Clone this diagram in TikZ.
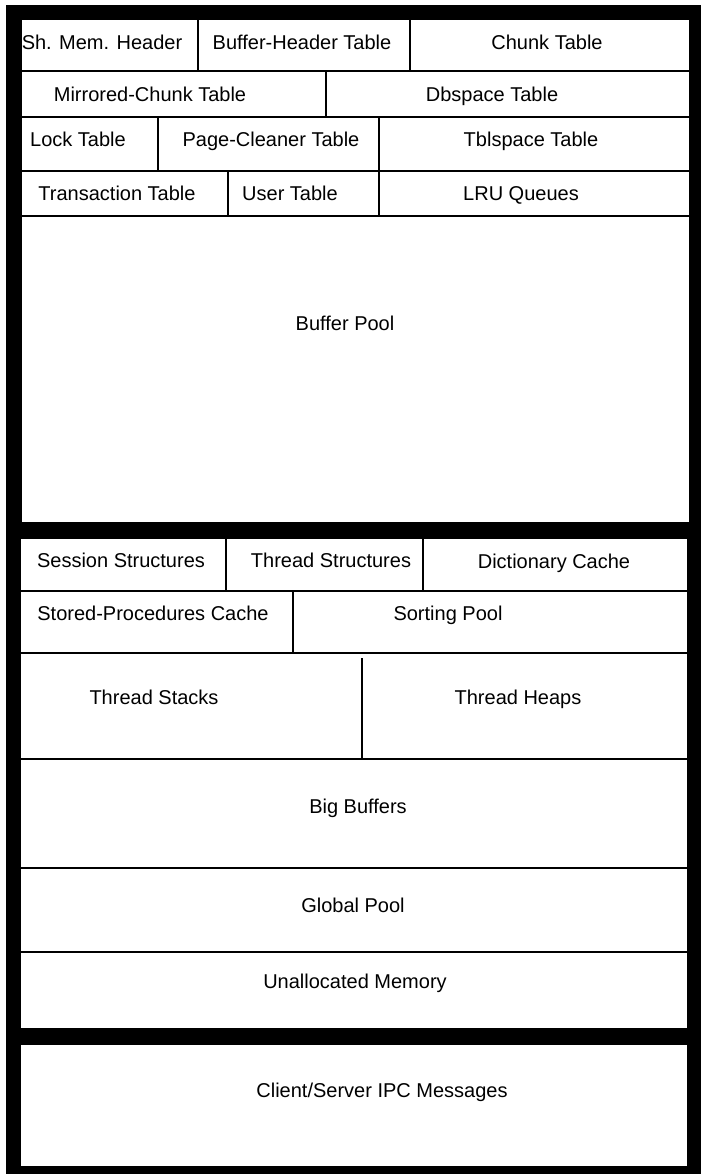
\documentclass[tikz,border=0pt]{standalone}
\usepackage{fontspec}
\setmainfont{Liberation Sans}
\begin{document}
\begin{tikzpicture}[x=1pt,y=-1pt,
  cellline/.style={draw=black,line width=1.3pt,fill=white},
  lbl/.style={inner sep=0pt,text height=14.3pt,text depth=0pt,anchor=center,
    font=\fontsize{20}{24}\selectfont}]
\useasboundingbox (0,0) rectangle (701,1174);
% outer black frame
\fill[black] (6,5) rectangle (701,1174);

% ---- upper segment: resident portion ----
\draw[cellline] (21,19) rectangle (198,71);
\draw[cellline] (198,19) rectangle (410,71);
\draw[cellline] (410,19) rectangle (690,71);
\draw[cellline] (21,71) rectangle (326,117);
\draw[cellline] (326,71) rectangle (690,117);
\draw[cellline] (21,117) rectangle (158,171);
\draw[cellline] (158,117) rectangle (379,171);
\draw[cellline] (379,117) rectangle (690,171);
\draw[cellline] (21,171) rectangle (228,216);
\draw[cellline] (228,171) rectangle (379,216);
\draw[cellline] (379,171) rectangle (690,216);
\draw[cellline] (21,216) rectangle (690,523);

% ---- middle segment: virtual portion ----
\draw[cellline] (20,538) rectangle (226,591);
\draw[cellline] (226,538) rectangle (423,591);
\draw[cellline] (423,538) rectangle (688,591);
\draw[cellline] (20,591) rectangle (293,653);
\draw[cellline] (293,591) rectangle (688,653);
\draw[cellline] (20,653) rectangle (688,759);
\draw[black,line width=1.3pt] (362,658) -- (362,759);
\draw[cellline] (20,759) rectangle (688,868);
\draw[cellline] (20,868) rectangle (688,952);
\draw[cellline] (20,952) rectangle (688,1029);

% ---- lower segment: message portion ----
\draw[cellline] (20,1044) rectangle (688,1167);

% labels
\node[lbl] (shm)  at (102,42)  {Sh. Mem. Header};
\node[lbl] (bht)  at (302,42)  {Buffer-Header Table};
\node[lbl] (chk)  at (547,42)  {Chunk Table};
\node[lbl] (mch)  at (150,94)  {Mirrored-Chunk Table};
\node[lbl] (dbs)  at (492,94)  {Dbspace Table};
\node[lbl] (lck)  at (78,139)  {Lock Table};
\node[lbl] (pgc)  at (271,139) {Page-Cleaner Table};
\node[lbl] (tbs)  at (531,139) {Tblspace Table};
\node[lbl] (trn)  at (117,193) {Transaction Table};
\node[lbl] (usr)  at (290,193) {User Table};
\node[lbl] (lru)  at (521,193) {LRU Queues};
\node[lbl] (bpl)  at (345,323) {Buffer Pool};

\node[lbl] (ses)  at (121,560) {Session Structures};
\node[lbl] (thr)  at (331,560) {Thread Structures};
\node[lbl] (dic)  at (554,561) {Dictionary Cache};
\node[lbl] (spc)  at (153,613) {Stored-Procedures Cache};
\node[lbl] (srt)  at (448,613) {Sorting Pool};
\node[lbl] (tst)  at (154,697) {Thread Stacks};
\node[lbl] (thp)  at (518,697) {Thread Heaps};
\node[lbl] (bbf)  at (358,806) {Big Buffers};
\node[lbl] (gpl)  at (353,905) {Global Pool};
\node[lbl] (una)  at (355,981) {Unallocated Memory};

\node[lbl] (ipc)  at (382,1090) {Client/Server IPC Messages};
\end{tikzpicture}
\end{document}
